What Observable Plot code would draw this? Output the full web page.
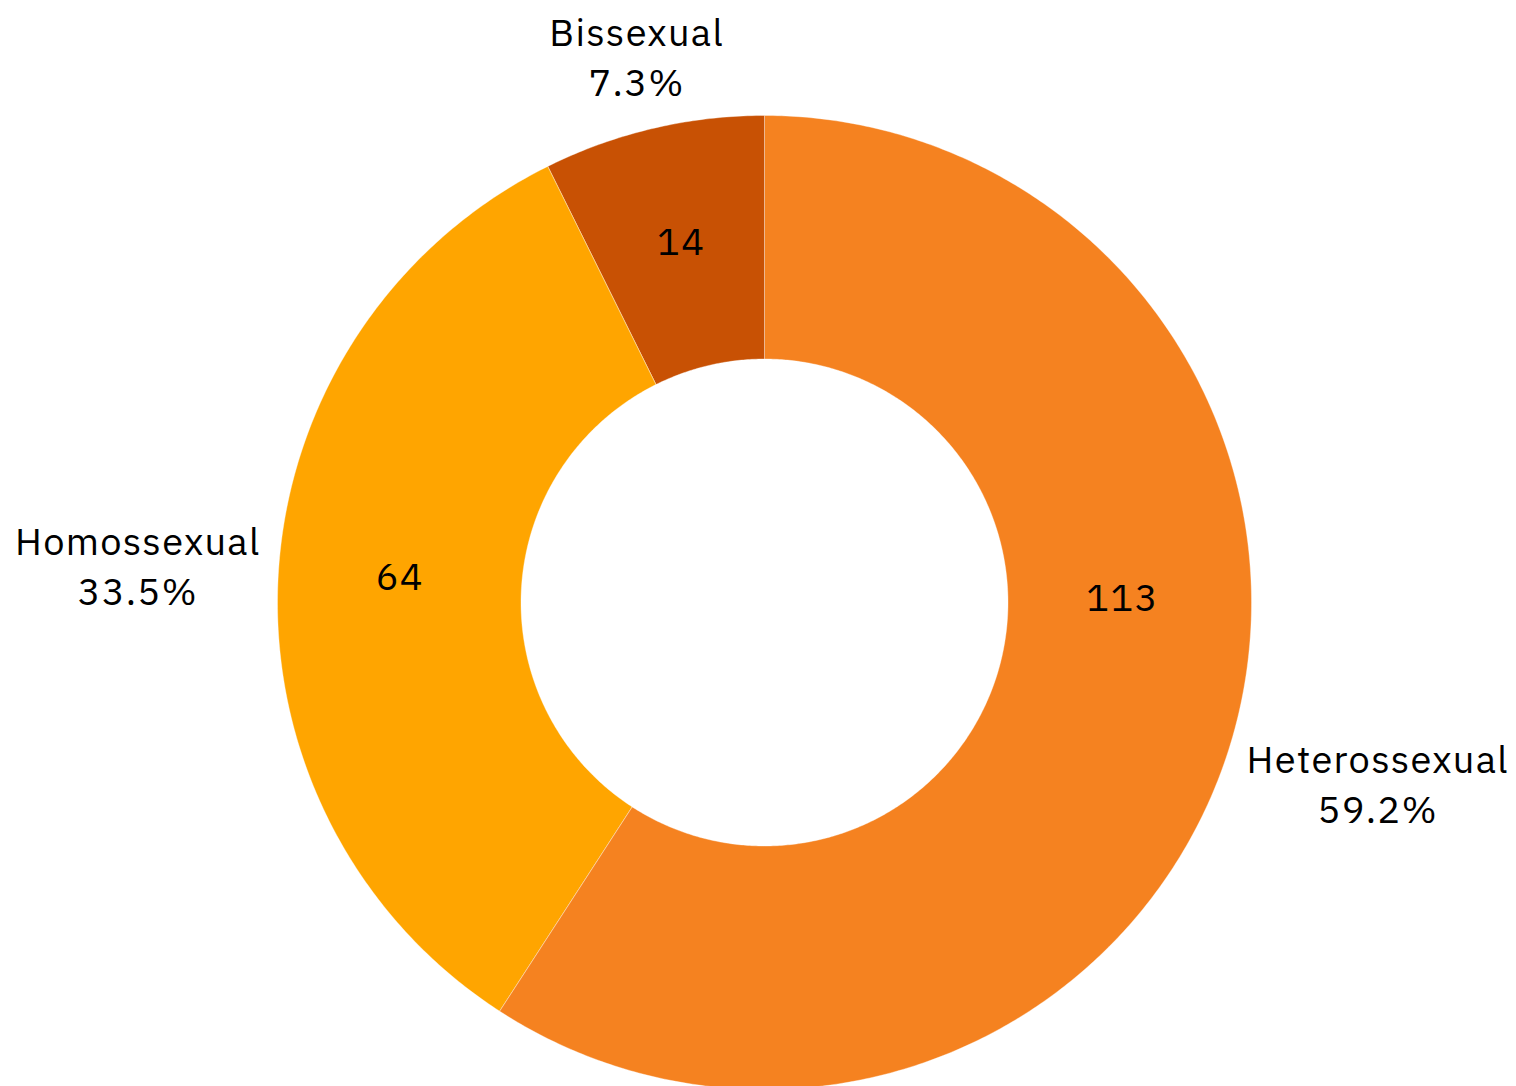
<!DOCTYPE html>
<html>
<head>
<meta charset="utf-8">
<script src="https://cdn.jsdelivr.net/npm/d3@7"></script>
<script src="https://cdn.jsdelivr.net/npm/@observablehq/plot@0.6"></script>
<style>
  html, body { margin: 0; padding: 0; background: #fff; }
  #chart svg { display: block; }
</style>
</head>
<body>
<div id="chart"></div>
<script>
// ---- data ----
const categories = ["Heterossexual", "Homossexual", "Bissexual"];
const counts = [113, 64, 14];
const colors = ["#F58220", "#FFA500", "#C85104"];

// ---- layout ----
const W = 1516, H = 1086;
const cx = 764, cy = 602, R = 487;      // pixels
const innerRatio = 0.5;
const fontFamily = "'IBM Plex Sans', 'Noto Sans', sans-serif";
const fontSize = 38;
const letterSpacing = 1.3;
const lineH = 50;
const insideOverride = {Heterossexual: {angle: Math.PI / 2, r: 0.735}};

const total = d3.sum(counts);
const rows = categories.map((name, i) => ({name, value: counts[i], color: colors[i]}));
const arcs = d3.pie().sort(null).value(d => d.value).startAngle(0).endAngle(2 * Math.PI)(rows);
const fmtPct = v => (v / total * 100).toFixed(1) + "%";

// polygon vertices in unit (radius) coordinates, y up, angle clockwise from top
const poly = [];
arcs.forEach(a => {
  const n = Math.max(8, Math.ceil((a.endAngle - a.startAngle) / (Math.PI / 360)));
  for (let k = 0; k <= n; k++) {
    const t = a.startAngle + (a.endAngle - a.startAngle) * k / n;
    poly.push({name: a.data.name, x: Math.sin(t), y: Math.cos(t)});
  }
  for (let k = n; k >= 0; k--) {
    const t = a.startAngle + (a.endAngle - a.startAngle) * k / n;
    poly.push({name: a.data.name, x: innerRatio * Math.sin(t), y: innerRatio * Math.cos(t)});
  }
});

// inside value labels
const rMid = (1 + innerRatio) / 2;
const inside = arcs.map(a => {
  const o = insideOverride[a.data.name] || {};
  const m = o.angle ?? (a.startAngle + a.endAngle) / 2;
  const r = o.r ?? rMid;
  return {text: String(a.data.value), x: r * Math.sin(m), y: r * Math.cos(m)};
});

// outside labels: box tangent to circle along mid angle
const ctx = document.createElement("canvas").getContext("2d");
ctx.font = `${fontSize}px ${fontFamily}`;
try { ctx.letterSpacing = letterSpacing + "px"; } catch (e) {}
const pad = 16;
const outside = arcs.map(a => {
  const m = (a.startAngle + a.endAngle) / 2;
  const l1 = a.data.name, l2 = fmtPct(a.data.value);
  const w = Math.max(ctx.measureText(l1).width, ctx.measureText(l2).width);
  const h = 76;
  const s = Math.sin(m), c = Math.cos(m);
  const d = R + pad + Math.abs(s) * w / 2 + Math.abs(c) * h / 2;
  return {text: l1 + "\n" + l2, x: d / R * s, y: d / R * c};
});

const chart = Plot.plot({
  width: W,
  height: H,
  margin: 0,
  x: {domain: [-cx / R, (W - cx) / R], axis: null},
  y: {domain: [-(H - cy) / R, cy / R], axis: null},
  color: {domain: categories, range: colors},
  style: {fontFamily, background: "#fff", letterSpacing: letterSpacing + "px"},
  marks: [
    Plot.line(poly, {x: "x", y: "y", z: "name", fill: "name", stroke: "#fff", strokeWidth: 0.6, strokeOpacity: 0.6, curve: "linear-closed"}),
    Plot.text(inside, {x: "x", y: "y", text: "text", fontSize, fill: "#000", dy: -4}),
    Plot.text(outside, {x: "x", y: "y", text: "text", fontSize, fill: "#000", lineHeight: lineH / fontSize, dy: -2})
  ]
});
document.getElementById("chart").append(chart);
</script>
</body>
</html>
